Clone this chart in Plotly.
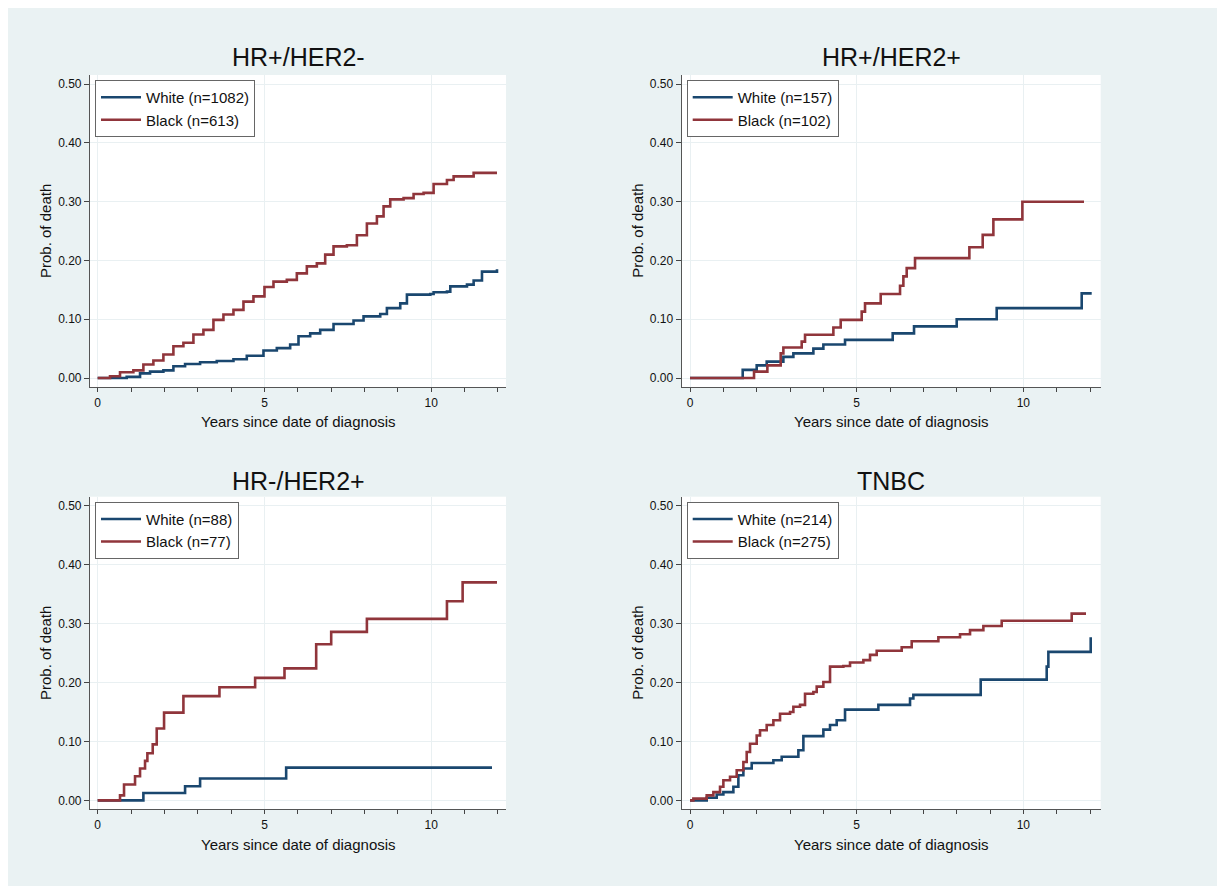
import plotly.graph_objects as go

# ---------------- data ----------------
panel_titles = ["HR+/HER2-", "HR+/HER2+", "HR-/HER2+", "TNBC"]
white_labels = ["White (n=1082)", "White (n=157)", "White (n=88)", "White (n=214)"]
black_labels = ["Black (n=613)", "Black (n=102)", "Black (n=77)", "Black (n=275)"]

# HR+/HER2-
p1_white_t = [0, 0.87, 1.27, 1.57, 1.97, 2.27, 2.62, 3.07, 3.57, 4.07, 4.47, 4.97, 5.37, 5.77, 6.02,
              6.37, 6.67, 7.07, 7.67, 7.97, 8.47, 8.67, 9.07, 9.27, 9.97, 10.07, 10.47, 10.57, 11.07,
              11.27, 11.52, 11.97]
p1_white_p = [0, 0.002, 0.008, 0.011, 0.013, 0.020, 0.024, 0.027, 0.029, 0.032, 0.038, 0.047, 0.051,
              0.057, 0.071, 0.076, 0.082, 0.092, 0.098, 0.105, 0.109, 0.119, 0.127, 0.142, 0.143,
              0.146, 0.147, 0.156, 0.159, 0.166, 0.181, 0.185]
p1_black_t = [0, 0.37, 0.67, 1.07, 1.37, 1.67, 1.97, 2.27, 2.57, 2.87, 3.17, 3.47, 3.77, 4.07, 4.37,
              4.67, 5.0, 5.27, 5.67, 5.97, 6.27, 6.57, 6.82, 7.07, 7.47, 7.77, 8.07, 8.37, 8.57, 8.77,
              9.17, 9.47, 9.77, 10.07, 10.47, 10.67, 11.07, 11.27, 11.97]
p1_black_p = [0, 0.003, 0.010, 0.013, 0.023, 0.030, 0.040, 0.054, 0.060, 0.074, 0.082, 0.099, 0.108,
              0.116, 0.130, 0.139, 0.155, 0.164, 0.167, 0.178, 0.190, 0.195, 0.210, 0.224, 0.226,
              0.243, 0.263, 0.275, 0.292, 0.304, 0.306, 0.313, 0.315, 0.330, 0.337, 0.343, 0.343,
              0.349, 0.349]

# HR+/HER2+
p2_white_t = [0, 1.58, 2.0, 2.3, 2.8, 3.1, 3.7, 4.0, 4.65, 6.08, 6.72, 8.0, 9.2, 11.75, 12.05]
p2_white_p = [0, 0.014, 0.0215, 0.028, 0.036, 0.042, 0.050, 0.057, 0.065, 0.076, 0.088, 0.100,
              0.119, 0.144, 0.144]
p2_black_t = [0, 1.92, 2.32, 2.72, 2.8, 3.35, 3.45, 4.30, 4.52, 5.15, 5.25, 5.72, 6.30, 6.40, 6.50,
              6.75, 8.38, 8.78, 9.10, 9.97, 11.82]
p2_black_p = [0, 0.011, 0.0215, 0.042, 0.052, 0.062, 0.0736, 0.086, 0.099, 0.113, 0.127, 0.143,
              0.157, 0.173, 0.187, 0.204, 0.2225, 0.2435, 0.270, 0.300, 0.300]

# HR-/HER2+
p3_white_t = [0, 1.37, 2.62, 3.07, 5.65, 11.82]
p3_white_p = [0, 0.0125, 0.024, 0.037, 0.0556, 0.0556]
p3_black_t = [0, 0.67, 0.79, 1.12, 1.27, 1.42, 1.49, 1.65, 1.77, 1.99, 2.57, 3.65, 4.72, 5.60, 6.55,
              7.0, 8.07, 10.47, 10.94, 11.97]
p3_black_p = [0, 0.0085, 0.027, 0.041, 0.054, 0.067, 0.080, 0.095, 0.122, 0.149, 0.177, 0.192,
              0.208, 0.224, 0.265, 0.286, 0.308, 0.338, 0.370, 0.370]

# TNBC
p4_white_t = [0, 0.3, 0.5, 0.8, 1.0, 1.3, 1.45, 1.6, 1.85, 2.5, 2.75, 3.25, 3.4, 4.0, 4.2, 4.4,
              4.65, 5.65, 6.6, 6.7, 8.72, 10.65, 10.7, 10.75, 12.0, 12.02]
p4_white_p = [0, 0, 0.0045, 0.010, 0.014, 0.023, 0.0425, 0.054, 0.0635, 0.068, 0.074, 0.085, 0.109,
              0.120, 0.128, 0.136, 0.154, 0.162, 0.173, 0.179, 0.205, 0.205, 0.227, 0.252, 0.252,
              0.277]
p4_black_t = [0, 0.1, 0.5, 0.7, 0.9, 1.0, 1.2, 1.4, 1.6, 1.7, 1.8, 2.0, 2.1, 2.3, 2.5, 2.7, 3.0,
              3.1, 3.3, 3.45, 3.7, 3.8, 4.0, 4.2, 4.6, 4.8, 5.2, 5.4, 5.6, 6.25, 6.35, 6.65, 7.45,
              8.1, 8.4, 8.8, 9.35, 11.45, 11.88]
p4_black_p = [0, 0.003, 0.0085, 0.014, 0.023, 0.034, 0.040, 0.051, 0.065, 0.082, 0.096, 0.110,
              0.119, 0.128, 0.136, 0.147, 0.150, 0.159, 0.162, 0.181, 0.184, 0.193, 0.201, 0.227,
              0.228, 0.234, 0.238, 0.247, 0.254, 0.254, 0.260, 0.270, 0.277, 0.282, 0.289, 0.296,
              0.305, 0.317, 0.317]

white_series = [(p1_white_t, p1_white_p), (p2_white_t, p2_white_p),
                (p3_white_t, p3_white_p), (p4_white_t, p4_white_p)]
black_series = [(p1_black_t, p1_black_p), (p2_black_t, p2_black_p),
                (p3_black_t, p3_black_p), (p4_black_t, p4_black_p)]

y_ticks = [0, 0.1, 0.2, 0.3, 0.4, 0.5]
x_ticks = [0, 5, 10]
x_title = "Years since date of diagnosis"
y_title = "Prob. of death"

# ---------------- styling / layout ----------------
OFF = 8                      # page body margin offset
W, H = 1225 - OFF, 886 - OFF
NAVY = "#1a476f"
MAROON = "#90353b"
BG = "#eaf2f3"
FONT = "Liberation Sans, Arial, sans-serif"


def px(v):
    return v / W


def py(v):
    return 1 - v / H


# window-pixel geometry of each plot region: (left, right, top, bottom), shifted by OFF
regions_win = [(90, 506, 75, 387), (681.7, 1100.7, 75, 387),
               (90, 506, 496.7, 809.3), (681.7, 1100.7, 496.7, 809.3)]
regions = [(l - OFF, r - OFF, t - OFF, b - OFF) for (l, r, t, b) in regions_win]
x_ranges = [[-0.23, 12.24], [-0.25, 12.32], [-0.23, 12.24], [-0.25, 12.32]]
y_range = [-0.0152, 0.5155]
title_y = [v - OFF for v in [57, 57, 480.5, 480.5]]
xtitle_y = [v - OFF for v in [421.5, 421.5, 844, 844]]
legend_pos = [(x - OFF, y - OFF) for (x, y) in [(95, 80), (686.7, 80), (95, 501.7), (686.7, 501.7)]]

fig = go.Figure()
legend_names = ["legend", "legend2", "legend3", "legend4"]

for i in range(4):
    ax = "" if i == 0 else str(i + 1)
    wt, wp = white_series[i]
    bt, bp = black_series[i]
    fig.add_trace(go.Scatter(x=wt, y=wp, mode="lines", line=dict(color=NAVY, width=2.6, shape="hv"),
                             name=white_labels[i], xaxis="x" + ax, yaxis="y" + ax,
                             legend=legend_names[i]))
    fig.add_trace(go.Scatter(x=bt, y=bp, mode="lines", line=dict(color=MAROON, width=2.6, shape="hv"),
                             name=black_labels[i], xaxis="x" + ax, yaxis="y" + ax,
                             legend=legend_names[i]))

layout = dict(
    width=W, height=H,
    margin=dict(l=0, r=0, t=0, b=0),
    paper_bgcolor=BG,
    plot_bgcolor="white",
    font=dict(family=FONT, color="#111111"),
    showlegend=True,
)

shapes = [dict(type="rect", xref="paper", yref="paper", x0=px(1214), x1=1, y0=0, y1=1,
               fillcolor="white", line=dict(width=0), layer="below")]
annotations = []

for i in range(4):
    l, r, t, b = regions[i]
    xd = [px(l), px(r)]
    yd = [py(b), py(t)]
    sfx = "" if i == 0 else str(i + 1)
    layout["xaxis" + sfx] = dict(
        domain=xd, range=x_ranges[i], anchor="y" + sfx,
        tickvals=x_ticks, ticks="outside", ticklen=4, tickwidth=1, tickcolor="#444",
        showline=True, linecolor="#555", linewidth=1.2, mirror=False,
        showgrid=True, gridcolor="#e9f0f2", gridwidth=1, zeroline=False,
        tickfont=dict(size=12, family=FONT, color="#111"),
        minor=dict(dtick=1, tick0=0, ticks="outside", ticklen=4, tickcolor="#444", showgrid=False),
        fixedrange=True,
    )
    layout["yaxis" + sfx] = dict(
        domain=yd, range=y_range, anchor="x" + sfx,
        tickvals=y_ticks, tickformat=".2f", ticks="outside", ticklen=5, tickwidth=1, tickcolor="#444",
        showline=True, linecolor="#555", linewidth=1.2, mirror=False,
        showgrid=True, gridcolor="#e9f0f2", gridwidth=1, zeroline=False,
        tickfont=dict(size=12, family=FONT, color="#111"),
        fixedrange=True,
    )
    cx = px((l + r) / 2)
    annotations.append(dict(text=panel_titles[i], xref="paper", yref="paper", x=cx,
                            y=py(title_y[i]), xanchor="center", yanchor="middle",
                            showarrow=False, font=dict(size=25, family=FONT, color="#111")))
    annotations.append(dict(text=x_title, xref="paper", yref="paper", x=cx,
                            y=py(xtitle_y[i]), xanchor="center", yanchor="middle",
                            showarrow=False, font=dict(size=15, family=FONT, color="#111")))
    annotations.append(dict(text=y_title, xref="paper", yref="paper", x=px(l - 45),
                            y=py((t + b) / 2), xanchor="center", yanchor="middle", textangle=-90,
                            showarrow=False, font=dict(size=15, family=FONT, color="#111")))
    lx, ly = legend_pos[i]
    layout[legend_names[i]] = dict(
        x=px(lx), y=py(ly), xanchor="left", yanchor="top",
        bgcolor="white", bordercolor="#666", borderwidth=1,
        font=dict(size=15, family=FONT, color="#111"),
        tracegroupgap=0, itemwidth=40,
    )

layout["shapes"] = shapes
layout["annotations"] = annotations
fig.update_layout(**layout)

fig.write_html("out.html", config={"displayModeBar": False})
